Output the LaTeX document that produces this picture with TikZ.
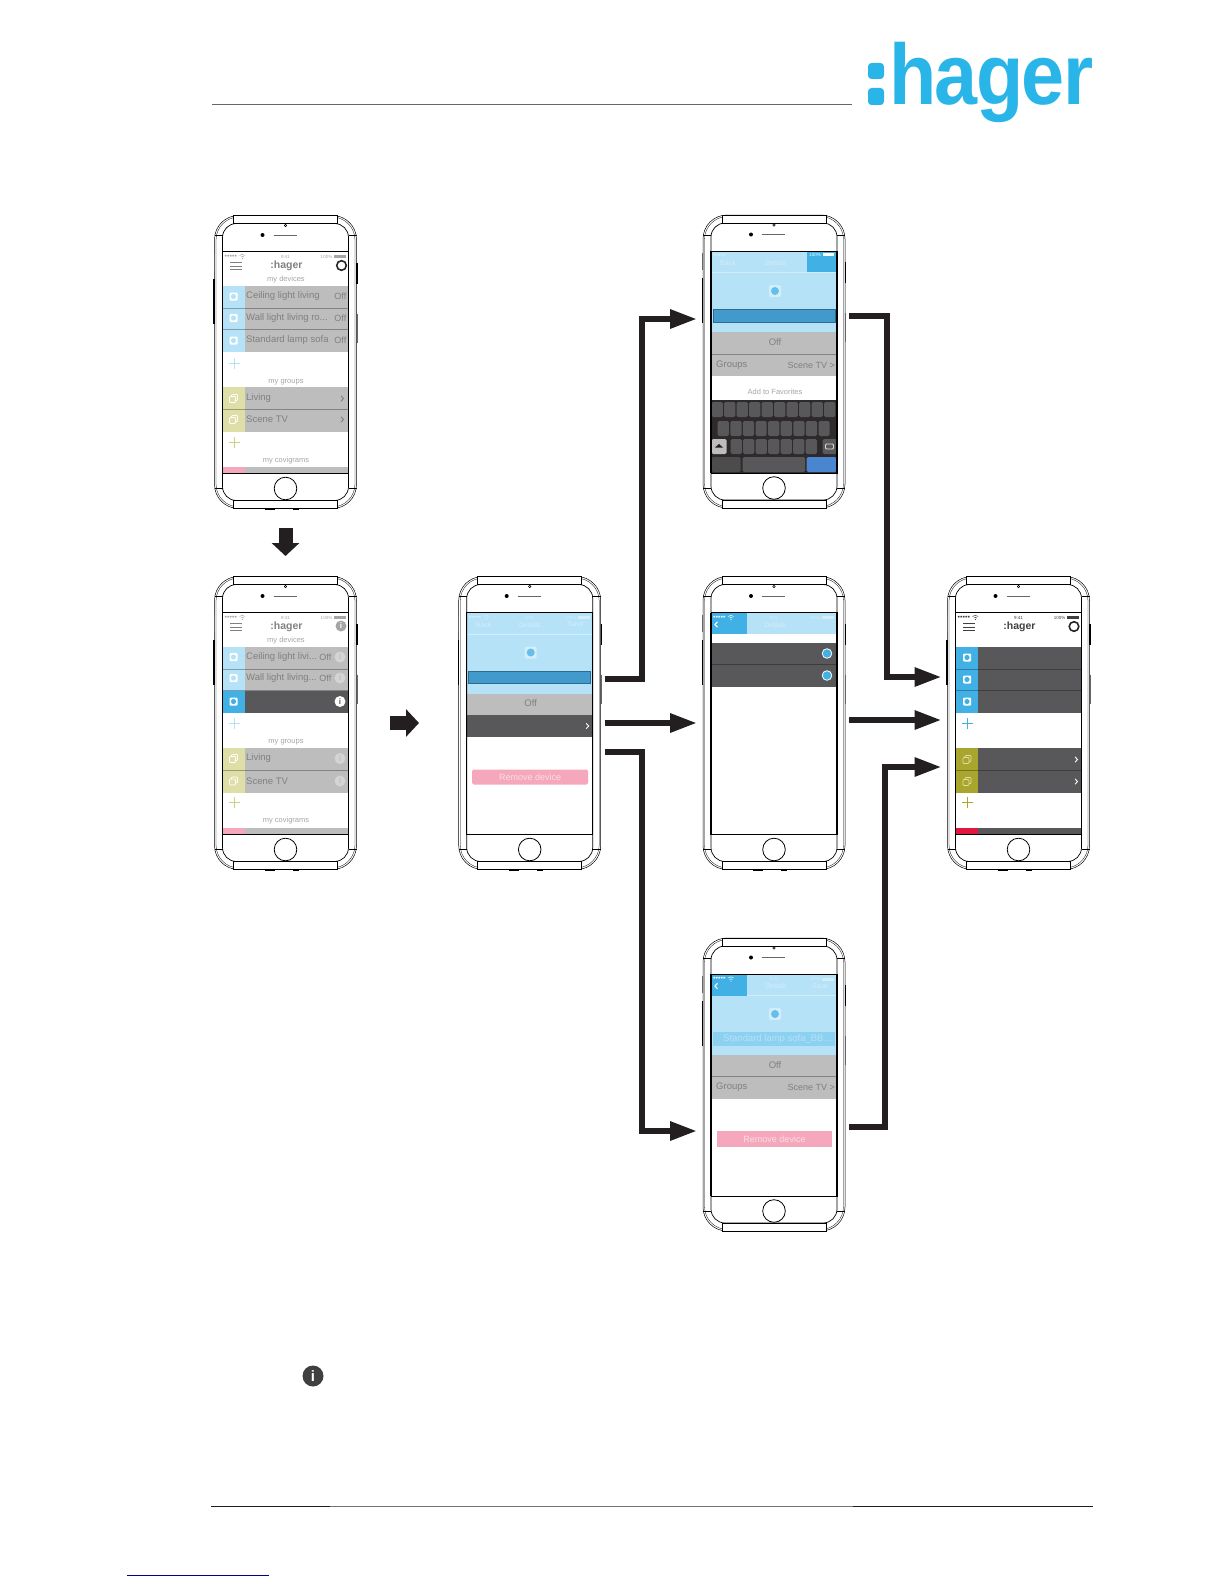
\documentclass[tikz,border=0pt]{standalone}
\usepackage{fontspec}
\setmainfont{Liberation Sans}
\newfontfamily\logofont[FakeStretch=0.9,LetterSpace=-2]{Liberation Sans}
\usetikzlibrary{arrows.meta}
\definecolor{logoblue}{HTML}{29B5E8}
\definecolor{hagerblue}{HTML}{41B1E5}
\definecolor{paleblue}{HTML}{B5E2F7}
\definecolor{barblue}{HTML}{4199CC}
\definecolor{returnblue}{HTML}{4A86D0}
\definecolor{rowgray}{HTML}{BDBDBD}
\definecolor{rowdark}{HTML}{58585A}
\definecolor{olive}{HTML}{A8A62C}
\definecolor{paleolive}{HTML}{DEDFA6}
\definecolor{palepink}{HTML}{F5A8BB}
\definecolor{hagerred}{HTML}{E2173F}
\definecolor{fadetext}{HTML}{808080}
\definecolor{softtext}{HTML}{A5A5A5}
\definecolor{paletext}{HTML}{D3EDFA}
\definecolor{arrowblack}{HTML}{231F20}
\definecolor{linkblue}{HTML}{00008B}
\tikzset{
    phonebox/.style={minimum width=142pt, minimum height=293pt, inner sep=0pt, outer sep=4pt},
    flowarrow/.style={line width=6pt, draw=arrowblack, shorten >=2pt, -{Triangle[length=27pt,width=18pt]}},
    blockarrow/.style={line width=14pt, draw=arrowblack, -{Triangle[length=13pt,width=27pt]}},
    rowlabel/.style={anchor=west, inner sep=0pt, text=fadetext, font=\fontsize{9.5}{10}\selectfont},
    offlabel/.style={anchor=east, inner sep=0pt, text=fadetext, font=\fontsize{9}{10}\selectfont},
    sectionlabel/.style={inner sep=0pt, text=softtext, font=\fontsize{7.5}{8}\selectfont},
    statuslabel/.style={inner sep=0pt, font=\fontsize{4.5}{5}\selectfont},
    headerlabel/.style={inner sep=0pt, text=paletext, font=\fontsize{7}{8}\selectfont},
    brandlabel/.style={inner sep=0pt, font=\bfseries\fontsize{10.5}{12}\selectfont},
    removelabel/.style={inner sep=0pt, text=white!60!palepink, font=\fontsize{9}{10}\selectfont},
    infodot/.style={circle, inner sep=0pt, minimum size=11pt, font=\bfseries\fontsize{8}{8}\selectfont},
    rowline/.style={line width=.5pt, draw=black, opacity=.3},
}
\newcommand{\phoneframe}{
    \node[phonebox] (phone) at (71,146.5) {};
    \draw[line width=.5pt, rounded corners=24pt] (0,0) rectangle (142,293);
    \draw[line width=.3pt, rounded corners=23pt] (1.5,1.5) rectangle (140.5,291.5);
    \draw[line width=.7pt, rounded corners=14pt] (8,8) rectangle (134,285);
    \draw[line width=.7pt, fill=white] (19,0) rectangle (123,8);
    \draw[line width=.7pt, fill=white] (19,285) rectangle (123,293);
    \draw[line width=.4pt] (0,20) -- (8,20) (134,20) -- (142,20) (0,273) -- (8,273) (134,273) -- (142,273);
    \draw[line width=.8pt] (8,36) rectangle (134,258);
    \draw[line width=1.4pt] (8,36) -- (8,258) (134,36) -- (134,258);
    \fill (48,19.5) circle (2pt);
    \draw[line width=1pt, draw=black!60] (59,19.5) -- (82,19.5);
    \draw[line width=.5pt] (71,10) circle (1.3pt);
    \draw[line width=.8pt] (71,273) circle (11.3pt);
    \draw[line width=1.4pt] (-.5,63) -- (-.5,108) (142.5,47) -- (142.5,68);
    \draw[line width=.6pt, draw=black!60] (-.5,38) -- (-.5,55) (142.5,98) -- (142.5,127);
    \draw[line width=1.2pt] (50,293.5) -- (60,293.5) (78,293.5) -- (84,293.5);
}
\newcommand{\listrows}[6]{
    \fill[#2] (8,70) rectangle (134,136);
    \fill[#1] (8,70) rectangle (30,136);
    \fill[#4] (8,171.5) rectangle (134,216);
    \fill[#3] (8,171.5) rectangle (30,216);
    \fill[#6] (8,251.5) rectangle (134,258);
    \fill[#5] (8,251.5) rectangle (30,258);
    \draw[rowline] (8,92.5) -- (134,92.5) (8,114) -- (134,114) (8,194) -- (134,194);
}
\newcommand{\statusline}[2]{
    \node[statuslabel, text=#1, anchor=west, font=\fontsize{7}{7}\selectfont] (dots) at (10,41) {•••••};
    \draw[line width=.5pt, draw=#1] (25,40) arc (135:45:4pt) (26.5,41.5) arc (135:45:2pt);
    \fill[#1] (27.9,43) circle (.6pt);
    \node[statuslabel, text=#2] (time) at (71,41) {9:41};
    \node[statuslabel, text=#2] (charge) at (112,41) {100\%};
    \fill[#2] (119,39.5) rectangle (131,42.5);
}
\newcommand{\hagerhead}[1]{
    \draw[line width=1pt, draw=#1] (15.5,47) -- (27.5,47) (15.5,50.5) -- (27.5,50.5) (15.5,54) -- (27.5,54);
    \node[brandlabel, text=#1] (brand) at (72,50) {:hager};
}
\newcommand{\deviceicon}[3]{
    \fill[white, rounded corners=1pt] (#1-4,#2-4) rectangle (#1+4,#2+4);
    \fill[#3] (#1,#2) circle (2.6pt);
}
\newcommand{\groupicon}[3]{
    \draw[line width=.7pt, draw=#3, rounded corners=.8pt] (#1-4,#2-2) rectangle (#1+2,#2+4);
    \draw[line width=.7pt, draw=#3, rounded corners=.8pt] (#1-2,#2-2) -- (#1-2,#2-4) -- (#1+4,#2-4) -- (#1+4,#2+2) -- (#1+2,#2+2);
}
\newcommand{\plusmark}[3]{
    \draw[line width=1pt, draw=#3] (#1-5.5,#2) -- (#1+5.5,#2) (#1,#2-5.5) -- (#1,#2+5.5);
}
\newcommand{\chevron}[3]{
    \draw[line width=.9pt, draw=#3] (#1-1.5,#2-2.7) -- (#1+1,#2) -- (#1-1.5,#2+2.7);
}
\newcommand{\backmark}[3]{
    \draw[line width=1.1pt, draw=#3] (#1+1.5,#2-2.7) -- (#1-1,#2) -- (#1+1.5,#2+2.7);
}
\newcommand{\detailbase}[1]{
    \fill[paleblue] (8,36) rectangle (134,117);
    \draw[line width=.4pt, draw=paletext] (8,57.5) -- (134,57.5);
    \fill[paletext, rounded corners=2pt] (66,70) rectangle (78,82);
    \fill[hagerblue!70!paleblue] (72,76) circle (4pt);
    \fill[rowgray] (8,117) rectangle (134,138.5);
    \node[rowlabel, anchor=center] (off) at (72,127) {Off};
    \fill[#1] (8,138.5) rectangle (134,160.5);
}
\begin{document}
\begin{tikzpicture}[x=1pt, y=-1pt]
    \useasboundingbox (0,0) rectangle (1224,1584);
    \draw[line width=.8pt, draw=black!60] (212,104) -- (852,104);
    \fill[logoblue, rounded corners=3.5pt] (868,63) rectangle (884,79) (868,88) rectangle (884,105);
    \node[anchor=base west, inner sep=0pt, text=logoblue, font=\logofont\bfseries\fontsize{86}{86}\selectfont] (logo) at (889,105) {hager};

    % first list
    \begin{scope}[shift={(214.5,215.5)}, name prefix=list-]
        \listrows{paleblue}{rowgray}{paleolive}{rowgray}{palepink}{rowgray}
        \statusline{softtext}{softtext}
        \hagerhead{fadetext}
        \draw[line width=1.6pt, draw=black!85] (127,50) circle (4.8pt);
        \node[sectionlabel] (devices) at (71.5,64) {my devices};
        \node[sectionlabel] (groups) at (71.5,167) {my groups};
        \node[sectionlabel] (covigrams) at (71.5,245) {my covigrams};
        \foreach \y/\name [count=\n] in {81/{Ceiling light living}, 102.5/{Wall light living ro...}, 125/{Standard lamp sofa}} {
            \deviceicon{19}{\y}{paleblue}
            \node[rowlabel] (row\n) at (31.5,\y) {\name};
            \node[offlabel] (off\n) at (132,\y) {Off};
        }
        \foreach \y/\name [count=\n] in {183/{Living}, 204/{Scene TV}} {
            \groupicon{19}{\y}{white}
            \node[rowlabel] (group\n) at (31.5,\y) {\name};
            \chevron{128}{\y}{fadetext}
        }
        \plusmark{19.5}{148}{paleblue}
        \plusmark{19.5}{227}{paleolive!70!olive}
        \phoneframe
    \end{scope}

    % list with the device selected
    \begin{scope}[shift={(214.5,576.5)}, name prefix=pick-]
        \listrows{paleblue}{rowgray}{paleolive}{rowgray}{palepink}{rowgray}
        \fill[rowdark] (8,114) rectangle (134,136);
        \fill[hagerblue] (8,114) rectangle (30,136);
        \statusline{softtext}{softtext}
        \hagerhead{fadetext}
        \node[infodot, fill=softtext, text=white] (head) at (126.5,49.5) {i};
        \node[sectionlabel] (devices) at (71.5,64) {my devices};
        \node[sectionlabel] (groups) at (71.5,166) {my groups};
        \node[sectionlabel] (covigrams) at (71.5,244) {my covigrams};
        \foreach \y/\name [count=\n] in {80.5/{Ceiling light livi...}, 101.5/{Wall light living...}} {
            \deviceicon{19}{\y}{paleblue}
            \node[rowlabel] (row\n) at (31.5,\y) {\name};
            \node[offlabel] (off\n) at (117,\y) {Off};
            \node[infodot, fill=white!35!rowgray, text=rowgray] (info\n) at (125.5,\y) {i};
        }
        \deviceicon{19}{125}{hagerblue}
        \node[infodot, fill=white, text=rowdark] (info) at (125.5,125) {i};
        \foreach \y/\name [count=\n] in {182/{Living}, 204.5/{Scene TV}} {
            \groupicon{19}{\y}{white}
            \node[rowlabel] (group\n) at (31.5,\y) {\name};
            \node[infodot, fill=white!35!rowgray, text=rowgray] (more\n) at (125.5,\y) {i};
        }
        \plusmark{19.5}{147}{paleblue}
        \plusmark{19.5}{226}{paleolive!70!olive}
        \phoneframe
    \end{scope}

    % device details
    \begin{scope}[shift={(458.7,576.5)}, name prefix=details-]
        \detailbase{rowdark}
        \statusline{paletext}{paletext}
        \node[headerlabel] (back) at (25,48) {Back};
        \node[headerlabel] (title) at (71,48) {Details};
        \node[headerlabel] (save) at (117,48) {Save};
        \draw[line width=.7pt, draw=barblue!70!black, fill=barblue] (10,95) rectangle (132,107);
        \chevron{129}{149.5}{white}
        \fill[palepink, rounded corners=1.5pt] (13.5,193) rectangle (129.5,208);
        \node[removelabel] (remove) at (71.5,200.5) {Remove device};
        \phoneframe
    \end{scope}

    % rename with keyboard
    \begin{scope}[shift={(703,215)}, name prefix=rename-]
        \detailbase{rowgray}
        \fill[hagerblue] (104,36) rectangle (134,57);
        \node[statuslabel, text=paletext, anchor=west, font=\fontsize{7}{7}\selectfont] (dots) at (10,41) {•••••};
        \node[statuslabel, text=white] (percent) at (112,39.5) {100\%};
        \fill[white] (120,38) rectangle (131,41);
        \node[headerlabel] (back) at (25,48) {Back};
        \node[headerlabel] (title) at (73,48) {Details};
        \draw[line width=.7pt, draw=barblue!70!black, fill=barblue] (10,94) rectangle (132,107);
        \draw[rowline] (8,139) -- (134,139);
        \node[rowlabel] (member) at (13,150) {Groups};
        \node[offlabel] (scene) at (132,150) {Scene TV >};
        \node[sectionlabel] (favorites) at (72,177) {Add to Favorites};
        \fill[arrowblack!95] (8,185) rectangle (134,258);
        \foreach \k in {0,...,9}
            \fill[rowdark, rounded corners=1.5pt] ({8.7+12.5*\k},187) rectangle ++(11.2,15);
        \foreach \k in {0,...,8}
            \fill[rowdark, rounded corners=1.5pt] ({14.7+12.6*\k},206) rectangle ++(11.2,15);
        \foreach \k in {0,...,6}
            \fill[rowdark, rounded corners=1.5pt] ({27.7+12.5*\k},224) rectangle ++(11.2,15);
        \fill[rowgray, rounded corners=1.5pt] (8.7,224) rectangle (23.7,239);
        \fill[arrowblack] (16,229) -- (20,232.5) -- (12,232.5) -- cycle;
        \fill[black!65, rounded corners=1.5pt] (119.5,224) rectangle (133.7,239);
        \draw[line width=.8pt, draw=white!85!black, rounded corners=1pt] (122.5,229) rectangle (130.5,234);
        \fill[black!70, rounded corners=1.5pt] (8.7,242) rectangle (37.7,257);
        \fill[rowdark, rounded corners=1.5pt] (39.7,242) rectangle (102,257);
        \fill[returnblue, rounded corners=1.5pt] (103.7,242) rectangle (133.7,257);
        \phoneframe
    \end{scope}

    % group selection
    \begin{scope}[shift={(703,576.5)}, name prefix=select-]
        \fill[paleblue] (8,36) rectangle (134,57);
        \fill[hagerblue] (8,36) rectangle (44,57);
        \statusline{white}{paletext}
        \node[headerlabel] (title) at (72,48) {Details};
        \backmark{13}{48}{white}
        \fill[rowdark] (8,66) rectangle (134,110);
        \draw[rowline] (8,88) -- (134,88);
        \foreach \y in {77,99}
            \draw[line width=.8pt, draw=white, fill=hagerblue] (124,\y) circle (4.8pt);
        \phoneframe
    \end{scope}

    % remove device
    \begin{scope}[shift={(703,938)}, name prefix=drop-]
        \detailbase{rowgray}
        \fill[hagerblue] (8,36) rectangle (44,58);
        \statusline{white}{paletext}
        \backmark{13}{48}{white}
        \node[headerlabel] (title) at (73,48) {Details};
        \node[headerlabel] (save) at (117,48) {Save};
        \fill[hagerblue!35!paleblue] (10,94) rectangle (132,108);
        \node[rowlabel, text=paletext!80!hagerblue] (bar) at (20,101) {Standard lamp sofa\_BB...};
        \draw[rowline] (8,138.5) -- (134,138.5);
        \node[rowlabel] (member) at (13,149) {Groups};
        \node[offlabel] (scene) at (132,149.5) {Scene TV >};
        \fill[palepink] (13.5,193) rectangle (128.5,209);
        \node[removelabel] (remove) at (71.5,201) {Remove device};
        \phoneframe
    \end{scope}

    % final list
    \begin{scope}[shift={(947.5,576.5)}, name prefix=final-]
        \listrows{hagerblue}{rowdark}{olive}{rowdark}{hagerred}{rowdark}
        \statusline{black!75}{black!75}
        \hagerhead{black!75}
        \draw[line width=1.6pt, draw=black!85] (126.5,50) circle (4.8pt);
        \foreach \y in {81,103,125} {
            \deviceicon{19.5}{\y}{hagerblue}
        }
        \foreach \y in {183,205} {
            \groupicon{19.5}{\y}{paleolive}
            \chevron{129}{\y}{white}
        }
        \plusmark{20}{147}{hagerblue}
        \plusmark{20}{226}{olive}
        \phoneframe
    \end{scope}

    \draw[blockarrow, shorten <=15.5pt, shorten >=16.5pt] (list-phone.south) -- (pick-phone.north);
    \draw[blockarrow, shorten <=29.5pt, shorten >=35.7pt] (pick-phone.east) -- (details-phone.west);

    \draw[flowarrow] ([yshift=44pt]details-phone.east) -- ++(37,0) |- ([yshift=42.5pt]rename-phone.west);
    \draw[flowarrow] (details-phone.east) -- (select-phone.west);
    \draw[flowarrow] ([yshift=-29pt]details-phone.east) -- ++(37,0) |- ([yshift=-46.5pt]drop-phone.west);
    \draw[flowarrow] ([yshift=45.5pt]rename-phone.east) -- ++(38,0) |- ([yshift=46pt]final-phone.west);
    \draw[flowarrow] ([yshift=3pt]select-phone.east) -- ([yshift=3pt]final-phone.west);
    \draw[flowarrow] ([yshift=-42.5pt]drop-phone.east) -- ++(36,0) |- ([yshift=-44pt]final-phone.west);

    \node[circle, inner sep=0pt, minimum size=21pt, fill=black!75, text=white, font=\bfseries\fontsize{15}{15}\selectfont] (note) at (313,1376) {i};
    \draw[line width=1.2pt, draw=arrowblack] (211,1506.5) -- (330,1506.5);
    \draw[line width=1.2pt, draw=black!55] (330,1506.5) -- (853,1506.5);
    \draw[line width=1.2pt, draw=arrowblack] (853,1506.5) -- (1093,1506.5);
    \draw[line width=1pt, draw=linkblue] (127,1575) -- (269,1575);
\end{tikzpicture}
\end{document}
